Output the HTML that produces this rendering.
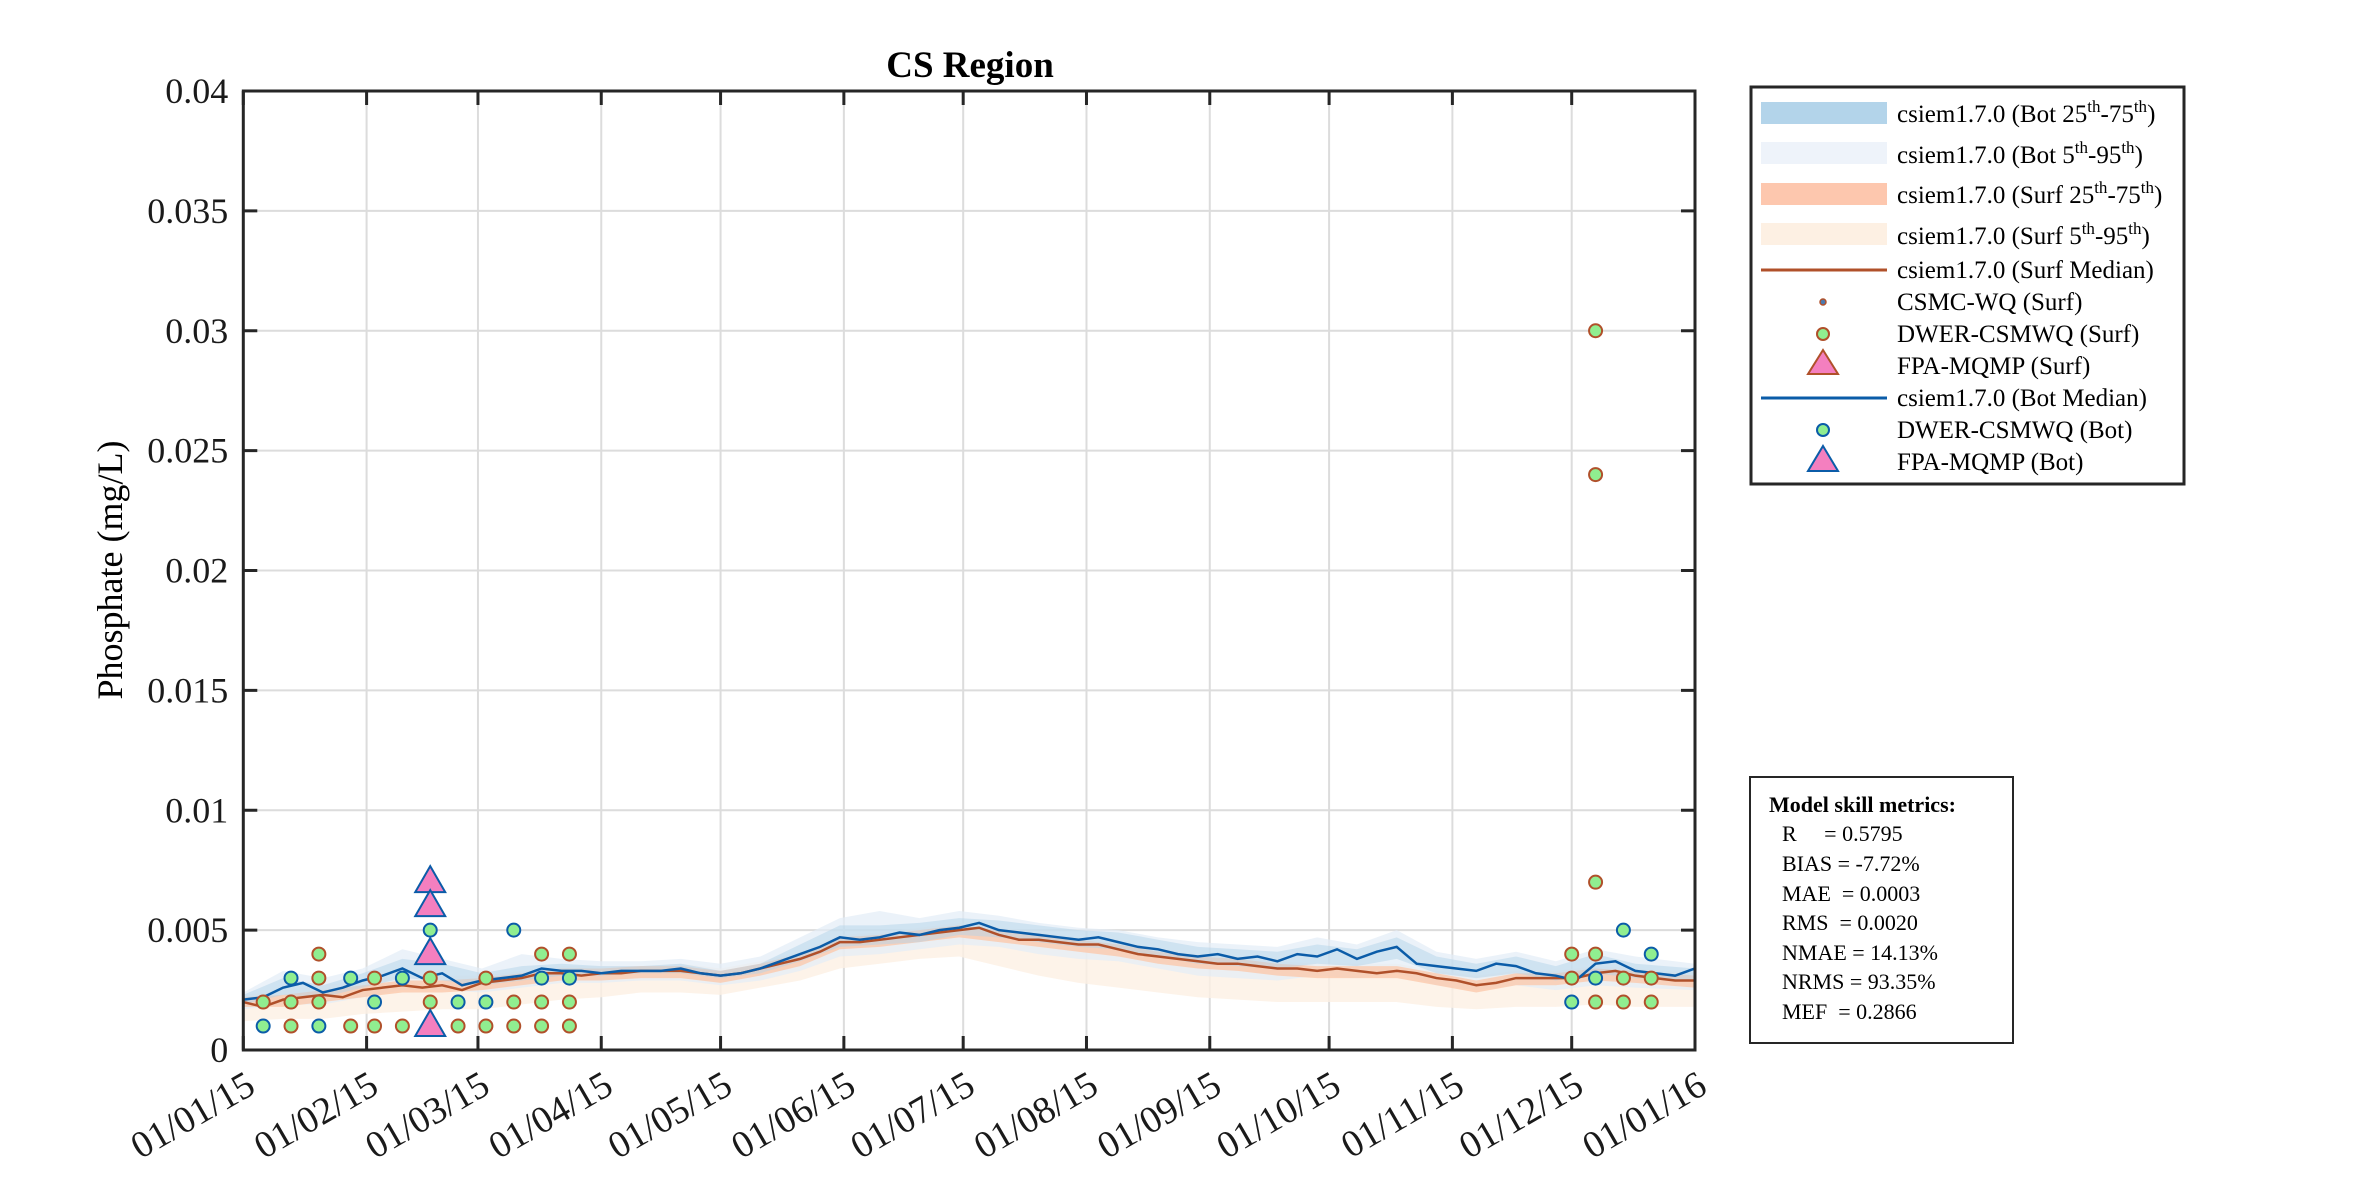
<!DOCTYPE html>
<html><head><meta charset="utf-8"><style>
html,body{margin:0;padding:0;background:#fff;}
svg{display:block;font-family:"Liberation Serif",serif;}
</style></head><body>
<svg id="chart" width="2362" height="1181" viewBox="0 0 2362 1181" xmlns="http://www.w3.org/2000/svg">
<rect width="2362" height="1181" fill="#fff"/>
<g id="grid"></g>
<g id="bands"></g>
<g id="lines"></g>
<g id="points"></g>
<g id="axes"></g>
<text x="970" y="77" font-size="37" font-weight="bold" text-anchor="middle" fill="#000">CS Region</text>
<text transform="translate(122,570) rotate(-90)" font-size="36" text-anchor="middle" fill="#000">Phosphate (mg/L)</text>

<g>
<rect x="1751" y="87" width="433" height="397" fill="#fff" stroke="#262626" stroke-width="3"/>
<g font-size="25" fill="#000">
<rect x="1761" y="102" width="126" height="22" fill="#b3d4ea"/>
<text x="1897" y="122">csiem1.7.0 (Bot 25<tspan dy="-10" font-size="17">th</tspan><tspan dy="10">-75</tspan><tspan dy="-10" font-size="17">th</tspan><tspan dy="10">)</tspan></text>
<rect x="1761" y="142" width="126" height="22" fill="#eef3fa"/>
<text x="1897" y="163">csiem1.7.0 (Bot 5<tspan dy="-10" font-size="17">th</tspan><tspan dy="10">-95</tspan><tspan dy="-10" font-size="17">th</tspan><tspan dy="10">)</tspan></text>
<rect x="1761" y="183" width="126" height="22" fill="#fdc7ae"/>
<text x="1897" y="203">csiem1.7.0 (Surf 25<tspan dy="-10" font-size="17">th</tspan><tspan dy="10">-75</tspan><tspan dy="-10" font-size="17">th</tspan><tspan dy="10">)</tspan></text>
<rect x="1761" y="223" width="126" height="22" fill="#fdf0e3"/>
<text x="1897" y="244">csiem1.7.0 (Surf 5<tspan dy="-10" font-size="17">th</tspan><tspan dy="10">-95</tspan><tspan dy="-10" font-size="17">th</tspan><tspan dy="10">)</tspan></text>
<line x1="1761" y1="270" x2="1887" y2="270" stroke="#b0502a" stroke-width="3"/>
<text x="1897" y="278">csiem1.7.0 (Surf Median)</text>
<circle cx="1823" cy="302" r="3" fill="#4a7ab0" stroke="#b0502a" stroke-width="1.5"/>
<text x="1897" y="310">CSMC-WQ (Surf)</text>
<circle cx="1823" cy="334" r="6" fill="#90ee90" stroke="#b0502a" stroke-width="2"/>
<text x="1897" y="342">DWER-CSMWQ (Surf)</text>
<polygon points="1823,350 1838,374 1808,374" fill="#f47fbf" stroke="#b0502a" stroke-width="2"/>
<text x="1897" y="374">FPA-MQMP (Surf)</text>
<line x1="1761" y1="398" x2="1887" y2="398" stroke="#0b5ca8" stroke-width="3"/>
<text x="1897" y="406">csiem1.7.0 (Bot Median)</text>
<circle cx="1823" cy="430" r="6" fill="#90ee90" stroke="#0b5ca8" stroke-width="2"/>
<text x="1897" y="438">DWER-CSMWQ (Bot)</text>
<polygon points="1823,446 1838,471 1808,471" fill="#f47fbf" stroke="#0b5ca8" stroke-width="2"/>
<text x="1897" y="470">FPA-MQMP (Bot)</text>
</g>
</g>

<g>
<rect x="1750" y="777" width="263" height="266" fill="#fff" stroke="#262626" stroke-width="2"/>
<g font-size="22" fill="#000">
<text x="1769" y="812" font-weight="bold">Model skill metrics:</text>
<text x="1782" y="841" xml:space="preserve">R     = 0.5795</text>
<text x="1782" y="871">BIAS = -7.72%</text>
<text x="1782" y="901" xml:space="preserve">MAE  = 0.0003</text>
<text x="1782" y="930" xml:space="preserve">RMS  = 0.0020</text>
<text x="1782" y="960">NMAE = 14.13%</text>
<text x="1782" y="989">NRMS = 93.35%</text>
<text x="1782" y="1019" xml:space="preserve">MEF  = 0.2866</text>
</g>
</g>
</svg>
<script>
const xTickLabels = ["01/01/15","01/02/15","01/03/15","01/04/15","01/05/15","01/06/15","01/07/15","01/08/15","01/09/15","01/10/15","01/11/15","01/12/15","01/01/16"];
const xTickDays = [0,31,59,90,120,151,181,212,243,273,304,334,365];
const yTickValues = [0,0.005,0.01,0.015,0.02,0.025,0.03,0.035,0.04];
const yTickLabels = ["0","0.005","0.01","0.015","0.02","0.025","0.03","0.035","0.04"];

const medianDays = [0,5,10,15,20,25,30,35,40,45,50,55,60,65,70,75,80,85,90,95,100,105,110,115,120,125,130,135,140,145,150,155,160,165,170,175,180,185,190,195,200,205,210,215,220,225,230,235,240,245,250,255,260,265,270,275,280,285,290,295,300,305,310,315,320,325,330,335,340,345,350,355,360,365];
const botMedian = [.0021,.0022,.0026,.0028,.0024,.0026,.0029,.0031,.0034,.0030,.0032,.0027,.0029,.0030,.0031,.0034,.0033,.0033,.0032,.0033,.0033,.0033,.0034,.0032,.0031,.0032,.0034,.0037,.0040,.0043,.0047,.0046,.0047,.0049,.0048,.0050,.0051,.0053,.0050,.0049,.0048,.0047,.0046,.0047,.0045,.0043,.0042,.0040,.0039,.0040,.0038,.0039,.0037,.0040,.0039,.0042,.0038,.0041,.0043,.0036,.0035,.0034,.0033,.0036,.0035,.0032,.0031,.0029,.0036,.0037,.0033,.0032,.0031,.0034];
const surfMedian = [.0020,.0018,.0021,.0022,.0023,.0022,.0025,.0026,.0027,.0026,.0027,.0025,.0028,.0029,.0030,.0032,.0032,.0031,.0032,.0032,.0033,.0033,.0033,.0032,.0031,.0032,.0034,.0036,.0038,.0041,.0045,.0045,.0046,.0047,.0048,.0049,.0050,.0051,.0048,.0046,.0046,.0045,.0044,.0044,.0042,.0040,.0039,.0038,.0037,.0036,.0036,.0035,.0034,.0034,.0033,.0034,.0033,.0032,.0033,.0032,.0030,.0029,.0027,.0028,.0030,.0030,.0030,.0030,.0032,.0033,.0031,.0030,.0029,.0029];

const bandDays = [0,10,20,30,40,50,60,70,80,90,100,110,120,130,140,150,160,170,180,190,200,210,220,230,240,250,260,270,280,290,300,310,320,330,340,350,365];
const bot95 = [.0024,.0033,.0030,.0034,.0042,.0038,.0034,.0040,.0038,.0037,.0037,.0038,.0036,.0039,.0047,.0055,.0058,.0055,.0058,.0056,.0053,.0051,.0050,.0047,.0045,.0044,.0043,.0047,.0044,.0050,.0041,.0038,.0041,.0037,.0042,.0039,.0036];
const bot75 = [.0023,.0030,.0027,.0032,.0038,.0036,.0032,.0035,.0036,.0035,.0035,.0036,.0033,.0036,.0044,.0052,.0052,.0053,.0055,.0054,.0052,.0050,.0049,.0046,.0043,.0042,.0041,.0044,.0042,.0047,.0039,.0036,.0039,.0035,.0040,.0036,.0034];
const bot25 = [.0019,.0023,.0022,.0026,.0030,.0029,.0027,.0029,.0031,.0031,.0032,.0032,.0030,.0032,.0037,.0043,.0044,.0045,.0048,.0047,.0045,.0043,.0042,.0039,.0036,.0035,.0034,.0036,.0035,.0038,.0032,.0030,.0032,.0029,.0032,.0030,.0029];
const bot5 = [.0017,.0019,.0019,.0022,.0025,.0025,.0024,.0026,.0028,.0028,.0029,.0029,.0027,.0029,.0033,.0039,.0040,.0042,.0044,.0043,.0040,.0038,.0037,.0034,.0031,.0030,.0029,.0031,.0030,.0032,.0027,.0025,.0027,.0025,.0027,.0026,.0025];
const surf95 = [.0023,.0025,.0027,.0029,.0031,.0031,.0031,.0033,.0035,.0035,.0035,.0036,.0034,.0037,.0041,.0048,.0049,.0051,.0053,.0051,.0049,.0047,.0045,.0042,.0040,.0039,.0037,.0036,.0036,.0036,.0033,.0031,.0033,.0033,.0035,.0034,.0032];
const surf75 = [.0022,.0023,.0025,.0027,.0029,.0029,.0030,.0032,.0034,.0034,.0035,.0035,.0033,.0036,.0040,.0047,.0048,.0050,.0052,.0050,.0048,.0046,.0044,.0041,.0039,.0038,.0036,.0035,.0035,.0035,.0032,.0029,.0032,.0032,.0034,.0033,.0031];
const surf25 = [.0018,.0018,.0020,.0022,.0024,.0024,.0025,.0027,.0029,.0029,.0030,.0030,.0028,.0031,.0035,.0042,.0043,.0045,.0047,.0045,.0043,.0041,.0039,.0036,.0034,.0033,.0031,.0030,.0030,.0030,.0027,.0024,.0027,.0027,.0029,.0028,.0026];
const surf5 = [.0012,.0013,.0013,.0015,.0016,.0017,.0017,.0019,.0021,.0022,.0024,.0024,.0023,.0026,.0029,.0034,.0036,.0038,.0039,.0035,.0031,.0028,.0026,.0024,.0022,.0021,.0020,.0020,.0020,.0020,.0018,.0017,.0018,.0018,.0019,.0018,.0018];

const dwerSurfDays = [5,12,12,19,19,19,27,33,33,40,47,47,54,61,61,68,68,75,75,75,82,82,82,334,334,340,340,340,340,340,347,347,354,354];
const dwerSurfVals = [.002,.002,.001,.004,.003,.002,.001,.003,.001,.001,.003,.002,.001,.003,.001,.002,.001,.004,.002,.001,.004,.002,.001,.004,.003,.030,.024,.007,.004,.002,.003,.002,.003,.002];
const dwerBotDays = [5,12,19,27,33,40,47,54,61,68,75,82,334,340,347,354];
const dwerBotVals = [.001,.003,.001,.003,.002,.003,.005,.002,.002,.005,.003,.003,.002,.003,.005,.004];
const fpaBotDays = [47,47,47,47];
const fpaBotVals = [.007,.006,.004,.001];

const X0=243.3, X1=1695, Y0=1050, Y1=91;
function xs(d){return X0+(X1-X0)*d/365;}
function ys(v){return Y0-(Y0-Y1)*v/0.04;}
const NS="http://www.w3.org/2000/svg";
function mk(tag,parent,attrs){const e=document.createElementNS(NS,tag);for(const k in attrs)e.setAttribute(k,attrs[k]);parent.appendChild(e);return e;}

const grid=document.getElementById('grid'), axes=document.getElementById('axes');
xTickDays.forEach((d,i)=>{
  const x=xs(d);
  if(i>0&&i<xTickDays.length-1){const g=mk('line',grid,{x1:x,y1:Y1,x2:x,y2:Y0,stroke:'#dcdcdc','stroke-width':2});
  
  }
  mk('line',axes,{x1:x,y1:Y0,x2:x,y2:Y0-14,stroke:'#262626','stroke-width':3});
  mk('line',axes,{x1:x,y1:Y1,x2:x,y2:Y1+14,stroke:'#262626','stroke-width':3});
  const t=mk('text',axes,{transform:`translate(${x+14},${Y0+42}) rotate(-30)`,'font-size':38,'text-anchor':'end',fill:'#1a1a1a'});
  
  
  t.textContent=xTickLabels[i];
});
yTickValues.forEach((v,i)=>{
  const y=ys(v);
  if(i>0&&i<yTickValues.length-1){const g=mk('line',grid,{x1:X0,y1:y,x2:X1,y2:y,stroke:'#dcdcdc','stroke-width':2});
  
  }
  mk('line',axes,{x1:X0,y1:y,x2:X0+14,y2:y,stroke:'#262626','stroke-width':3});
  mk('line',axes,{x1:X1,y1:y,x2:X1-14,y2:y,stroke:'#262626','stroke-width':3});
  const t=mk('text',axes,{x:X0-15,y:y+12,'font-size':36,'text-anchor':'end',fill:'#1a1a1a'});
  
  
  t.textContent=yTickLabels[i];
});
const frame=mk('rect',axes,{x:X0,y:Y1,width:X1-X0,height:Y0-Y1,fill:'none',stroke:'#262626','stroke-width':3});



const bands=document.getElementById('bands');
function band(lo,hi,fill,op,name){
  let d='M'+bandDays.map((dd,i)=>xs(dd)+','+ys(hi[i])).join('L');
  for(let i=bandDays.length-1;i>=0;i--)d+='L'+xs(bandDays[i])+','+ys(lo[i]);
  const p=mk('path',bands,{d:d+'Z',fill:fill,'fill-opacity':op});
  
  
}
band(surf5,surf95,'#fdf0e3',0.8,'surf-5-95-band');
band(bot5,bot95,'#e3edf7',0.7,'bot-5-95-band');
band(surf25,surf75,'#fbc9ad',0.8,'surf-25-75-band');
band(bot25,bot75,'#b3d4ea',0.5,'bot-25-75-band');

const lines=document.getElementById('lines');
function line(vals,col,name){
  const p=mk('polyline',lines,{points:medianDays.map((d,i)=>xs(d)+','+ys(vals[i])).join(' '),fill:'none',stroke:col,'stroke-width':2.5});
  
  
}
line(surfMedian,'#b0502a','surf-median-line');
line(botMedian,'#0b5ca8','bot-median-line');

const pts=document.getElementById('points');
dwerSurfDays.forEach((d,i)=>{
  const c=mk('circle',pts,{cx:xs(d),cy:ys(dwerSurfVals[i]),r:6.5,fill:'#90ee90',stroke:'#b0502a','stroke-width':2});
  
  
});
dwerBotDays.forEach((d,i)=>{
  const c=mk('circle',pts,{cx:xs(d),cy:ys(dwerBotVals[i]),r:6.5,fill:'#90ee90',stroke:'#0b5ca8','stroke-width':2});
  
  
});
fpaBotDays.forEach((d,i)=>{
  const x=xs(d), y=ys(fpaBotVals[i]);
  const t=mk('polygon',pts,{points:`${x},${y-16} ${x+15},${y+10} ${x-15},${y+10}`,fill:'#f47fbf',stroke:'#0b5ca8','stroke-width':2});
  
  
});
</script>
</body></html>
